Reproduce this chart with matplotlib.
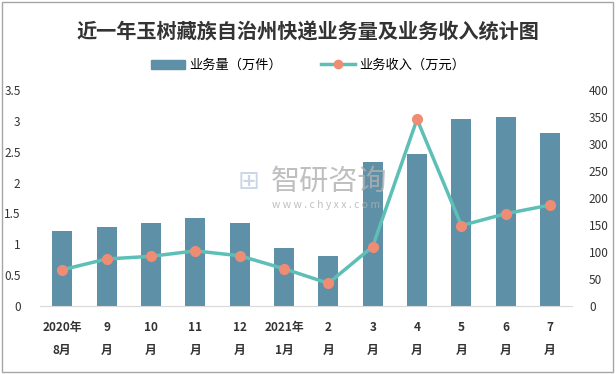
import matplotlib
matplotlib.use('Agg')
import matplotlib.pyplot as plt
import matplotlib.patches as patches
from matplotlib.lines import Line2D

plt.rcParams['font.family'] = ['Noto Sans CJK SC', 'DejaVu Sans']

months = ['2020年\n8月', '9\n月', '10\n月', '11\n月', '12\n月', '2021年\n1月',
          '2\n月', '3\n月', '4\n月', '5\n月', '6\n月', '7\n月']
volume = [1.21, 1.28, 1.34, 1.42, 1.34, 0.94, 0.81, 2.33, 2.46, 3.03, 3.06, 2.80]  # 万件
revenue = [67, 87, 92, 102, 93, 69, 42, 110, 346, 149, 171, 187]  # 万元

bar_color = '#5e90a8'
line_color = '#5dbfb6'
dot_color = '#ef8c74'

fig = plt.figure(figsize=(6.16, 3.74), dpi=100)
ax = fig.add_axes([0.065, 0.182, 0.864, 0.577])
ax2 = ax.twinx()

x = list(range(len(months)))
ax.bar(x, volume, width=0.45, color=bar_color, zorder=2)
ax2.plot(x, revenue, color=line_color, lw=2.5, marker='o', ms=7,
         markerfacecolor=dot_color, markeredgecolor=dot_color, zorder=3)

ax.set_ylim(0, 3.5)
ax.set_yticks([0, 0.5, 1, 1.5, 2, 2.5, 3, 3.5])
ax.set_yticklabels(['0', '0.5', '1', '1.5', '2', '2.5', '3', '3.5'])
ax2.set_ylim(0, 400)
ax2.set_yticks(range(0, 401, 50))
ax.set_xlim(-0.5, len(months) - 0.5)
ax.set_xticks(x)
ax.set_xticklabels(months, fontsize=9, fontweight='bold', linespacing=2.0)

for a in (ax, ax2):
    for s in a.spines.values():
        s.set_visible(False)
    a.tick_params(length=0, labelsize=8.5, colors='#333333')
ax.spines['bottom'].set_visible(True)
ax.spines['bottom'].set_color('#d9d9d9')
ax.tick_params(axis='y', pad=14)
ax2.tick_params(axis='y', pad=12)
ax.tick_params(axis='x', pad=11)

fig.text(0.5, 0.915, '近一年玉树藏族自治州快递业务量及业务收入统计图', ha='center', va='center',
         fontsize=14.5, fontweight='bold', color='#333333')

handles = [patches.Patch(color=bar_color),
           Line2D([0], [0], color=line_color, lw=2.5, marker='o', ms=6,
                  markerfacecolor=dot_color, markeredgecolor=dot_color)]
fig.legend(handles, ['业务量（万件）', '业务收入（万元）'], loc='center', bbox_to_anchor=(0.5, 0.825),
           ncol=2, frameon=False, fontsize=9.5, handlelength=2.6, columnspacing=3, handletextpad=0.3)

# watermark
fig.text(0.44, 0.515, '智研咨询', ha='left', va='center', fontsize=21, color='#b0b0b0', alpha=0.8)
fig.text(0.385, 0.515, '⊞', ha='left', va='center', fontsize=19, color='#c5d3e6', alpha=0.9)
fig.text(0.53, 0.452, 'w w w . c h y x x . c o m', ha='center', va='center', fontsize=7.5,
         color='#b0b0b0', alpha=0.8)

fig.add_artist(patches.Rectangle((0.003, 0.005), 0.992, 0.99, transform=fig.transFigure,
                                 fill=False, edgecolor='#a6a6a6', lw=1))

fig.savefig('out.png', dpi=100)
